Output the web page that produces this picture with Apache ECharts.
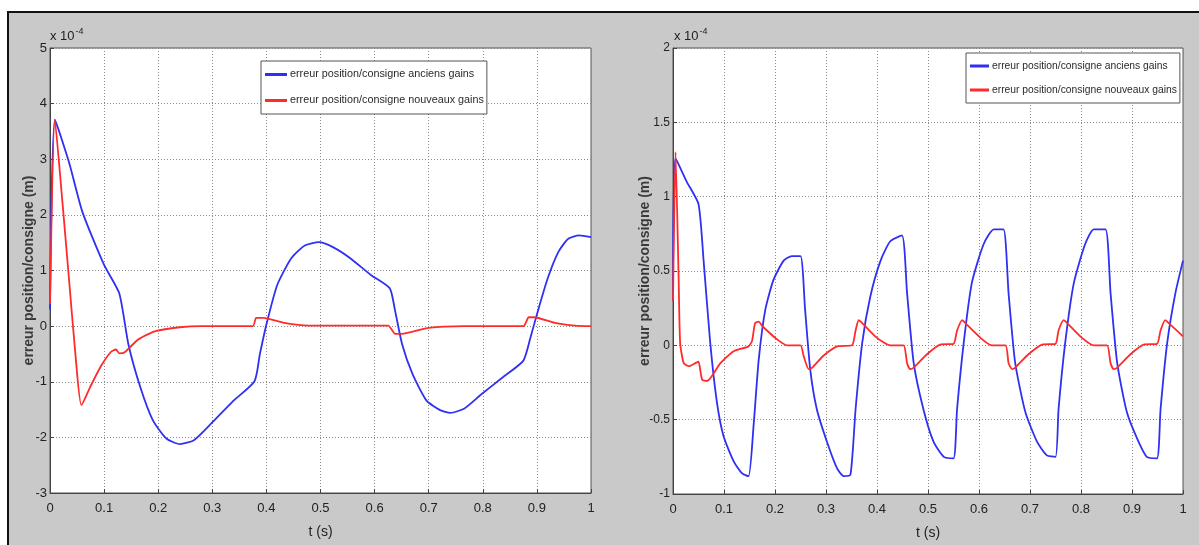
<!DOCTYPE html>
<html><head><meta charset="utf-8">
<script src="https://cdn.jsdelivr.net/npm/echarts@6/dist/echarts.min.js"></script>
<style>
html,body{margin:0;padding:0;background:#fff;}
#wrap{position:relative;width:1199px;height:545px;overflow:hidden;}
#panel{position:absolute;left:7px;top:11px;width:1200px;height:540px;background:#c9c9c9;border-top:2px solid #111;border-left:2px solid #111;box-sizing:border-box;}
#chart{position:absolute;left:0;top:0;width:1199px;height:545px;}
</style></head>
<body><div id="wrap"><div id="panel"></div><div id="chart"></div></div>
<script>
// values are in units of 1e-4 m
const seriesNames = ['erreur position/consigne anciens gains', 'erreur position/consigne nouveaux gains'];
const xTicks = [0,0.1,0.2,0.3,0.4,0.5,0.6,0.7,0.8,0.9,1];

// Left chart, blue (anciens gains)
const leftBlueT = [0,0.009,0.035,0.06,0.1,0.128,0.145,0.167,0.19,0.215,0.24,0.266,0.298,0.337,0.378,0.388,0.4,0.42,0.446,0.471,0.497,0.523,0.555,0.593,0.628,0.638,0.651,0.67,0.696,0.721,0.74,0.766,0.798,0.837,0.875,0.888,0.9,0.92,0.94,0.958,0.978,1.0];
const leftBlueV = [0.3,3.71,2.95,2.05,1.1,0.59,-0.33,-1.1,-1.69,-2.02,-2.12,-2.05,-1.75,-1.36,-0.99,-0.5,0.03,0.74,1.22,1.45,1.51,1.42,1.22,0.92,0.68,0.27,-0.33,-0.86,-1.34,-1.51,-1.56,-1.48,-1.22,-0.92,-0.62,-0.21,0.21,0.86,1.34,1.57,1.63,1.6];
// Left chart, red (nouveaux gains)
const leftRedT = [0,0.009,0.022,0.035,0.048,0.058,0.074,0.093,0.112,0.122,0.128,0.138,0.163,0.195,0.24,0.28,0.375,0.381,0.394,0.433,0.478,0.625,0.638,0.65,0.7,0.766,0.875,0.885,0.894,0.933,0.971,1.0];
const leftRedV = [0.4,3.71,2.34,0.86,-0.62,-1.42,-1.1,-0.74,-0.47,-0.42,-0.49,-0.47,-0.24,-0.09,-0.02,0,0,0.15,0.15,0.06,0.01,0.01,-0.14,-0.14,-0.03,0,0,0.16,0.16,0.06,0.01,0];

// Right chart, blue (anciens gains)
const rightBlueT = [0,0.0046,0.027,0.05,0.06,0.073,0.086,0.099,0.119,0.135,0.148,0.158,0.168,0.181,0.197,0.217,0.233,0.25,0.259,0.269,0.282,0.302,0.322,0.335,0.348,0.358,0.371,0.387,0.407,0.426,0.449,0.459,0.472,0.491,0.511,0.531,0.55,0.557,0.57,0.586,0.609,0.629,0.648,0.658,0.671,0.691,0.714,0.733,0.75,0.756,0.769,0.786,0.808,0.825,0.848,0.858,0.871,0.89,0.913,0.929,0.949,0.956,0.969,0.985,1.0];
const rightBlueV = [0.3,1.26,1.10,0.95,0.57,0.016,-0.38,-0.61,-0.78,-0.86,-0.88,-0.54,-0.1,0.24,0.44,0.57,0.60,0.60,0.24,-0.16,-0.43,-0.65,-0.83,-0.88,-0.87,-0.43,0.016,0.33,0.57,0.70,0.74,0.35,-0.12,-0.43,-0.65,-0.75,-0.76,-0.43,0.016,0.42,0.68,0.78,0.78,0.35,-0.12,-0.45,-0.65,-0.74,-0.75,-0.43,0.016,0.42,0.68,0.78,0.78,0.35,-0.12,-0.45,-0.65,-0.75,-0.76,-0.43,0.016,0.35,0.57];
// Right chart, red (nouveaux gains)
const rightRedT = [0,0.005,0.011,0.014,0.021,0.031,0.044,0.05,0.057,0.067,0.093,0.119,0.148,0.155,0.161,0.168,0.175,0.204,0.224,0.25,0.256,0.266,0.273,0.295,0.322,0.351,0.358,0.364,0.371,0.4,0.426,0.452,0.459,0.465,0.472,0.498,0.524,0.55,0.557,0.567,0.573,0.603,0.625,0.652,0.658,0.665,0.671,0.697,0.724,0.75,0.756,0.766,0.773,0.802,0.825,0.851,0.858,0.864,0.871,0.897,0.923,0.949,0.956,0.965,0.972,1.0];
const rightRedV = [0.3,1.30,0.46,0.016,-0.12,-0.14,-0.12,-0.11,-0.23,-0.24,-0.12,-0.04,-0.007,0.03,0.15,0.16,0.13,0.04,0,0,-0.07,-0.16,-0.15,-0.07,-0.007,0,0.10,0.17,0.15,0.05,0,0,-0.12,-0.16,-0.15,-0.06,0.005,0.01,0.10,0.17,0.15,0.05,0,0,-0.12,-0.16,-0.15,-0.06,0.005,0.01,0.10,0.17,0.15,0.05,0,0,-0.12,-0.16,-0.15,-0.06,0.005,0.01,0.10,0.17,0.15,0.06];

const zip = (t, v) => t.map((x, i) => [x, v[i]]);

const sans = '"Liberation Sans", Arial, sans-serif';
const BLUE = '#3030f2', RED = '#ff2b2b';

function xAxis(gi) {
  return {
    type: 'value', gridIndex: gi, min: 0, max: 1, interval: 0.1,
    name: 't (s)', nameLocation: 'middle', nameGap: 32, nameMoveOverlap: false,
    nameTextStyle: {fontFamily: sans, fontSize: 14, color: '#222'},
    axisLine: {show: true, onZero: false, lineStyle: {color: '#444', width: 1}},
    axisTick: {show: true, inside: true, length: 4, lineStyle: {color: '#444'}},
    axisLabel: {fontFamily: sans, fontSize: 13, color: '#222', margin: 9},
    splitLine: {show: true, lineStyle: {color: '#8a8a8a', type: [1, 2], width: 1}}
  };
}
function yAxis(gi, min, max, interval, gap, lblSize) {
  return {
    type: 'value', gridIndex: gi, min: min, max: max, interval: interval,
    name: 'erreur position/consigne (m)', nameLocation: 'middle', nameGap: gap, nameRotate: 90, nameMoveOverlap: false,
    nameTextStyle: {fontFamily: sans, fontSize: 14, fontWeight: 'bold', color: '#3a3a3a'},
    axisLine: {show: true, onZero: false, lineStyle: {color: '#444', width: 1}},
    axisTick: {show: true, inside: true, length: 4, lineStyle: {color: '#444'}},
    axisLabel: {fontFamily: sans, fontSize: lblSize, color: '#222', margin: 3},
    splitLine: {show: true, lineStyle: {color: '#8a8a8a', type: [1, 2], width: 1}}
  };
}
function legend(left, top, fontSize, iconW, gap) {
  return {
    left: left, top: top, orient: 'vertical', data: seriesNames,
    icon: 'rect', itemWidth: iconW, itemHeight: 3, itemGap: gap,
    backgroundColor: '#fff', borderColor: '#555', borderWidth: 1, padding: [8, 3, 8, 4],
    textStyle: {fontFamily: sans, fontSize: fontSize, color: '#2a2a2a', padding: [0, 0, 0, -2]}
  };
}
function line(name, gi, data, color) {
  return {
    type: 'line', name: name, xAxisIndex: gi, yAxisIndex: gi, data: data,
    showSymbol: false, symbol: 'none', lineStyle: {color: color, width: 1.8}, itemStyle: {color: color},
    smooth: 0.2, silent: true
  };
}

const chart = echarts.init(document.getElementById('chart'), null, {renderer: 'canvas'});
chart.setOption({
  animation: false,
  backgroundColor: 'transparent',
  grid: [
    {left: 50, top: 48, right: 608, bottom: 52, show: true, backgroundColor: '#fff', borderColor: '#555', borderWidth: 1},
    {left: 673, top: 48, right: 16, bottom: 48, show: true, backgroundColor: '#fff', borderColor: '#555', borderWidth: 1}
  ],
  xAxis: [xAxis(0), xAxis(1)],
  yAxis: [yAxis(0, -3, 5, 1, 14, 13), yAxis(1, -1, 2, 0.5, 21, 12)],
  legend: [legend(261, 61, 10.8, 22, 15), legend(966, 53, 10.3, 19, 14)],
  graphic: [
    {type: 'text', left: 50, top: 27, style: {text: 'x 10{s|-4}', rich: {s: {fontSize: 9, verticalAlign: 'top', padding: [0, 0, 10, 1], fontFamily: sans, fill: '#222'}}, font: '13px ' + sans, fill: '#222'}},
    {type: 'text', left: 674, top: 27, style: {text: 'x 10{s|-4}', rich: {s: {fontSize: 9, verticalAlign: 'top', padding: [0, 0, 10, 1], fontFamily: sans, fill: '#222'}}, font: '13px ' + sans, fill: '#222'}}
  ],
  series: [
    line(seriesNames[0], 0, zip(leftBlueT, leftBlueV), BLUE),
    line(seriesNames[1], 0, zip(leftRedT, leftRedV), RED),
    line(seriesNames[0], 1, zip(rightBlueT, rightBlueV), BLUE),
    line(seriesNames[1], 1, zip(rightRedT, rightRedV), RED)
  ]
});
</script></body></html>
